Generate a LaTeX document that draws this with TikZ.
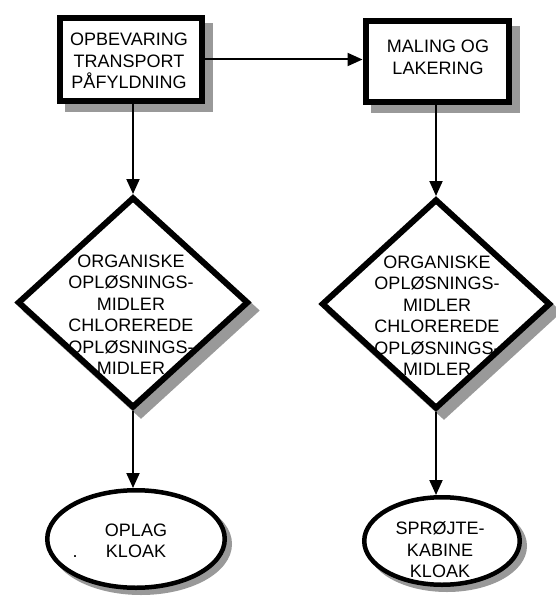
\documentclass[tikz,border=0pt]{standalone}
\usepackage{fontspec}
\setmainfont{Liberation Sans}
\usetikzlibrary{shapes.geometric,shadows,arrows.meta}

\begin{document}
\begin{tikzpicture}[x=1pt,y=-1pt,
  shade col/.style={fill=black!40, draw=black!40, opacity=1},
  procbox/.style={rectangle, fill=white, draw=black, line width=6pt, inner sep=0pt,
    drop shadow={shade col, line width=6pt, shadow xshift=8pt, shadow yshift=-8pt}},
  decision/.style={diamond, fill=white, draw=black, line width=6pt, inner sep=0pt,
    drop shadow={shade col, line width=6pt, shadow xshift=8pt, shadow yshift=-8pt}},
  terminal/.style={ellipse, fill=white, draw=black, line width=4.5pt, inner sep=0pt,
    drop shadow={shade col, line width=4.5pt, shadow xshift=5pt, shadow yshift=-5pt}},
  lbl/.style={font=\fontsize{18}{21.5}\selectfont, align=center, inner sep=0pt},
  conn/.style={line width=2pt, -{Triangle[length=15pt,width=13pt]}}
]
\useasboundingbox (0,0) rectangle (556,599);

% process boxes
\node[procbox, minimum width=142pt, minimum height=83pt] (b1) at (131,59.5) {};
\node[procbox, minimum width=143.5pt, minimum height=81pt] (b2) at (437.25,61.5) {};

% decisions
\node[decision, minimum width=231pt, minimum height=211pt] (d1) at (133,302.5) {};
\node[decision, minimum width=229pt, minimum height=210pt] (d2) at (436,304) {};

% terminals
\node[terminal, minimum width=177.5pt, minimum height=97.5pt] (e1) at (136,539) {};
\node[terminal, minimum width=155.5pt, minimum height=87.5pt] (e2) at (442,541) {};

% texts
\node[lbl] (tb1) at (129,61) {OPBEVARING\\TRANSPORT\\PÅFYLDNING};
\node[lbl] (tb2) at (438,57.5) {MALING OG\\LAKERING};
\node[lbl] (td1) at (131,314.5) {ORGANISKE\\OPLØSNINGS-\\MIDLER\\CHLOREREDE\\OPLØSNINGS-\\MIDLER};
\node[lbl] (td2) at (437,315.5) {ORGANISKE\\OPLØSNINGS-\\MIDLER\\CHLOREREDE\\OPLØSNINGS-\\MIDLER};
\node[lbl] (te1) at (136,541) {OPLAG\\KLOAK};
\node[lbl, anchor=base] (dot) at (75,557) {.};
\node[lbl] (te2) at (440,550) {SPRØJTE-\\KABINE\\KLOAK};

% connectors
\draw[conn] (b1.east) -- (b1.east -| b2.west);
\draw[conn] (d1.north |- b1.south) -- (d1.north);
\draw[conn] (d2.north |- b2.south) -- (d2.north);
\draw[conn] (d1.south) -- (d1.south |- e1.north);
\draw[conn] (d2.south) -- (d2.south |- e2.north);
\end{tikzpicture}
\end{document}
